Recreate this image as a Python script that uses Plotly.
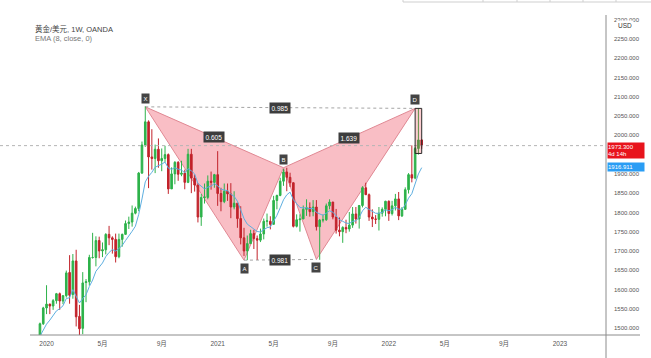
import pandas as pd
import plotly.graph_objects as go

# ---------------- data (weekly XAU/USD, OANDA) ----------------
first_week = "2019-11-11"
open_ = [1459, 1468, 1462, 1464, 1460, 1476, 1479, 1511,
         1552, 1562, 1557, 1571, 1589, 1570, 1584, 1644, 1587, 1674, 1530, 1499, 1618,
         1620, 1683, 1683, 1727, 1700, 1703, 1743, 1734, 1730, 1685, 1730, 1743, 1771,
         1775, 1798, 1810, 1902, 1975, 2035, 1944, 1940, 1964, 1934, 1940, 1950, 1861,
         1900, 1930, 1899, 1902, 1878, 1951, 1889, 1871, 1788, 1839, 1839, 1881, 1878,
         1898, 1849, 1828, 1855, 1848, 1814, 1824, 1784, 1734, 1700, 1719, 1745, 1732,
         1728, 1744, 1777, 1777, 1769, 1831, 1844, 1881, 1905, 1891, 1877, 1764, 1781,
         1783, 1808, 1812, 1802, 1814, 1763, 1780, 1781, 1817, 1827, 1788, 1754, 1750,
         1761, 1757, 1767, 1796, 1783, 1818, 1864, 1846, 1788, 1783, 1782, 1798, 1808,
         1829, 1797, 1817, 1835, 1791, 1808, 1859, 1898, 1889, 1966, 1988]
high = [1474, 1478, 1466, 1480, 1479, 1481, 1514, 1555,
        1611, 1563, 1575, 1591, 1592, 1585, 1649, 1689, 1692, 1703, 1560, 1645, 1627,
        1690, 1747, 1738, 1737, 1722, 1746, 1765, 1738, 1745, 1745, 1745, 1779, 1789,
        1818, 1815, 1905, 1984, 2075, 2039, 2016, 1976, 1992, 1966, 1973, 1953, 1917,
        1933, 1933, 1934, 1911, 1965, 1965, 1898, 1876, 1848, 1875, 1896, 1906, 1900,
        1959, 1864, 1875, 1875, 1876, 1855, 1824, 1816, 1760, 1740, 1755, 1755, 1740,
        1758, 1784, 1797, 1790, 1843, 1846, 1890, 1913, 1916, 1903, 1878, 1795, 1795,
        1818, 1834, 1826, 1832, 1832, 1783, 1795, 1823, 1834, 1827, 1809, 1787, 1764,
        1781, 1801, 1814, 1814, 1819, 1868, 1877, 1849, 1808, 1793, 1814, 1813, 1830,
        1831, 1830, 1848, 1853, 1814, 1865, 1902, 1974, 1970, 2070, 1990]
low = [1445, 1456, 1452, 1458, 1458, 1472, 1477, 1508,
       1536, 1536, 1547, 1563, 1547, 1562, 1579, 1563, 1576, 1504, 1451, 1484, 1567,
       1610, 1680, 1660, 1681, 1684, 1691, 1715, 1693, 1670, 1681, 1711, 1742, 1757,
       1763, 1795, 1803, 1900, 1970, 1863, 1911, 1902, 1916, 1907, 1931, 1848, 1861,
       1873, 1882, 1894, 1860, 1876, 1850, 1854, 1774, 1765, 1823, 1834, 1859, 1864,
       1817, 1803, 1824, 1830, 1785, 1808, 1760, 1717, 1687, 1676, 1719, 1705, 1677,
       1723, 1730, 1763, 1756, 1769, 1808, 1842, 1869, 1855, 1866, 1761, 1761, 1750,
       1783, 1791, 1789, 1790, 1753, 1677, 1774, 1778, 1808, 1782, 1745, 1738, 1721,
       1746, 1750, 1760, 1771, 1758, 1813, 1846, 1778, 1762, 1770, 1753, 1789, 1790,
       1778, 1792, 1805, 1780, 1788, 1807, 1849, 1878, 1886, 1950, 1965]
close = [1468, 1462, 1464, 1460, 1476, 1478, 1511, 1552,
         1562, 1557, 1571, 1589, 1570, 1584, 1643, 1585, 1674, 1529, 1498, 1617, 1620,
         1683, 1683, 1727, 1700, 1703, 1743, 1734, 1730, 1685, 1730, 1743, 1771, 1775,
         1798, 1810, 1902, 1975, 2035, 1944, 1940, 1964, 1934, 1940, 1950, 1861, 1900,
         1930, 1899, 1902, 1878, 1951, 1889, 1871, 1788, 1839, 1840, 1881, 1878, 1898,
         1849, 1828, 1855, 1848, 1814, 1824, 1784, 1734, 1700, 1719, 1745, 1732, 1728,
         1744, 1777, 1778, 1769, 1831, 1844, 1881, 1905, 1891, 1877, 1764, 1781, 1783,
         1808, 1812, 1802, 1814, 1763, 1780, 1781, 1817, 1827, 1788, 1754, 1750, 1761,
         1757, 1767, 1796, 1783, 1818, 1864, 1846, 1788, 1783, 1782, 1798, 1808, 1829,
         1797, 1817, 1835, 1791, 1808, 1859, 1898, 1889, 1966, 1988, 1973.3]

ema_span = 8
last_price = 1973.3
ema_last = 1916.911
countdown = "4d 14h"

pattern_labels = ["X", "A", "B", "C", "D"]
pattern_dates = ["2020-08-03", "2021-03-01", "2021-05-24", "2021-08-02", "2022-02-28"]
pattern_prices = [2074, 1676, 1916, 1678, 2070]
ratio_pairs = [("X", "D"), ("X", "B"), ("A", "C"), ("B", "D")]
ratio_texts = ["0.985", "0.605", "0.981", "1.639"]
prz_dates = ["2022-02-28", "2022-03-14"]
prz_prices = [1953, 2070]

# 1950 is hidden behind the last-price label in the reference
y_ticks = [1500, 1550, 1600, 1650, 1700, 1750, 1800, 1850, 1900,
           2000, 2050, 2100, 2150, 2200, 2250, 2300]
x_tickvals = ["2020-01-06", "2020-05-04", "2020-09-07", "2021-01-04", "2021-05-03",
              "2021-09-06", "2022-01-03", "2022-05-02", "2022-09-05", "2023-01-02"]
x_ticktext = ["2020", "5月", "9月", "2021", "5月", "9月", "2022", "5月", "9月", "2023"]

title_text = "黄金/美元, 1W, OANDA"
ema_text = "EMA (8, close, 0)"

# ---------------- figure ----------------
weeks = pd.date_range(first_week, periods=len(close), freq="7D")
ema = pd.Series(close).ewm(span=ema_span, adjust=False).mean()

GREEN = "#2db24a"
RED = "#c2232b"
FONT = "Liberation Sans, Arial, Noto Sans CJK SC, sans-serif"
W, H = 651, 358
ML, MR, MT, MB = 0, 45, 15, 23
PW, PH = W - ML - MR, H - MT - MB

fig = go.Figure()
fig.add_trace(go.Candlestick(
    x=weeks, open=open_, high=high, low=low, close=close,
    increasing=dict(line=dict(color=GREEN, width=1), fillcolor=GREEN),
    decreasing=dict(line=dict(color=RED, width=1), fillcolor=RED),
    whiskerwidth=0, showlegend=False, hoverinfo="skip"))
fig.add_trace(go.Scatter(x=weeks, y=ema, mode="lines",
                         line=dict(color="#5eafe0", width=1),
                         showlegend=False, hoverinfo="skip"))

P = {k: (d, p) for k, d, p in zip(pattern_labels, pattern_dates, pattern_prices)}

def tri(a, b, c):
    pts = [P[a], P[b], P[c]]
    return "M " + " L ".join(f"{d},{p}" for d, p in pts) + " Z"

shapes = []
for t in [("X", "A", "B"), ("B", "C", "D")]:
    shapes.append(dict(type="path", path=tri(*t), xref="x", yref="y", layer="below",
                       fillcolor="#f9bec5", line=dict(color="#e08893", width=1)))
for a, b in [("X", "D"), ("A", "C")]:
    shapes.append(dict(type="line", xref="x", yref="y", x0=P[a][0], y0=P[a][1],
                       x1=P[b][0], y1=P[b][1], layer="below",
                       line=dict(color="#a5a5a5", width=1, dash="dot")))
shapes.append(dict(type="line", xref="paper", yref="y", x0=0, x1=1,
                   y0=last_price, y1=last_price,
                   line=dict(color="#b4b4b4", width=1, dash="dot")))
shapes.append(dict(type="rect", xref="x", yref="y", x0=prz_dates[0], x1=prz_dates[1],
                   y0=prz_prices[0], y1=prz_prices[1], layer="above",
                   fillcolor="rgba(242,54,69,0.25)", line=dict(color="#2a2a2a", width=1)))
# axis borders
shapes.append(dict(type="line", xref="paper", yref="paper", x0=1, x1=1,
                   y0=1, y1=-MB / PH, line=dict(color="#8c8c8c", width=1)))
shapes.append(dict(type="line", xref="paper", yref="paper", x0=30 / PW, x1=640 / PW,
                   y0=0, y1=0, line=dict(color="#8c8c8c", width=1)))
# top table fragment
ty = (PH + MT - 2) / PH
shapes.append(dict(type="line", xref="paper", yref="paper", x0=403 / PW, x1=W / PW,
                   y0=ty, y1=ty, line=dict(color="#cfcfcf", width=1)))
for px in [403, 483, 517, 550, 583, 616]:
    shapes.append(dict(type="line", xref="paper", yref="paper", x0=px / PW, x1=px / PW,
                       y0=ty, y1=(PH + MT) / PH, line=dict(color="#cfcfcf", width=1)))

ann = []
ann.append(dict(text=title_text, xref="paper", yref="paper", x=33 / PW, y=(PH + MT - 29) / PH,
                xanchor="left", yanchor="middle", showarrow=False,
                font=dict(size=7.5, color="#444", family=FONT)))
ann.append(dict(text=ema_text, xref="paper", yref="paper", x=33 / PW, y=(PH + MT - 38) / PH,
                xanchor="left", yanchor="middle", showarrow=False,
                font=dict(size=7.5, color="#777", family=FONT)))
for k in pattern_labels:
    d, p = P[k]
    above = k in ("X", "B", "D")
    ann.append(dict(text=k, x=d, y=p, xref="x", yref="y", showarrow=False,
                    yanchor="bottom" if above else "top", yshift=3 if above else -3,
                    bgcolor="#444", borderpad=1.5,
                    font=dict(size=6, color="white", family=FONT)))
for (a, b), t in zip(ratio_pairs, ratio_texts):
    da, pa = pd.Timestamp(P[a][0]), P[a][1]
    db, pb = pd.Timestamp(P[b][0]), P[b][1]
    ann.append(dict(text=t, x=da + (db - da) / 2, y=(pa + pb) / 2, xref="x", yref="y",
                    showarrow=False, bgcolor="#3d3d3d", borderpad=1.5,
                    font=dict(size=6.5, color="white", family=FONT)))
ann.append(dict(text=f"{last_price:.3f}<br>{countdown}", xref="paper", yref="y",
                x=1, y=last_price, xanchor="left", yanchor="top", yshift=4, xshift=1,
                showarrow=False, bgcolor="#e8141c", width=36, height=15, align="left",
                borderpad=0, font=dict(size=6, color="white", family=FONT)))
ann.append(dict(text=f"{ema_last:.3f}", xref="paper", yref="y",
                x=1, y=ema_last, xanchor="left", yanchor="middle", xshift=1,
                showarrow=False, bgcolor="#2a9df4", width=36, height=8, align="left",
                borderpad=0, font=dict(size=6, color="white", family=FONT)))
ann.append(dict(text="USD", xref="paper", yref="y", x=1, y=2285, xanchor="left",
                yanchor="middle", xshift=10, showarrow=False, bgcolor="white",
                borderpad=1, font=dict(size=6.5, color="#333", family=FONT)))

fig.update_layout(
    width=W, height=H, margin=dict(l=ML, r=MR, t=MT, b=MB, autoexpand=False),
    paper_bgcolor="white", plot_bgcolor="white", hovermode=False,
    shapes=shapes, annotations=ann, font=dict(family=FONT),
    xaxis=dict(type="date", range=["2019-09-29", "2023-04-10"], automargin=False,
               rangeslider=dict(visible=False), showgrid=False, zeroline=False,
               showline=False, tickmode="array", tickvals=x_tickvals, ticktext=x_ticktext,
               ticks="", ticklabelstandoff=3,
               tickfont=dict(size=6.5, color="#555", family=FONT)),
    yaxis=dict(side="right", range=[1481.8, 2312.4], showgrid=False, zeroline=False,
               showline=False, tickmode="array", tickvals=y_ticks, automargin=False,
               ticktext=[f"{v:.3f}" for v in y_ticks], ticks="", ticklabelstandoff=7,
               tickfont=dict(size=6, color="#555", family=FONT)),
)

fig.write_html("out.html", config={"displayModeBar": False},
               post_script="document.body.style.margin='0';document.body.style.padding='0';")
